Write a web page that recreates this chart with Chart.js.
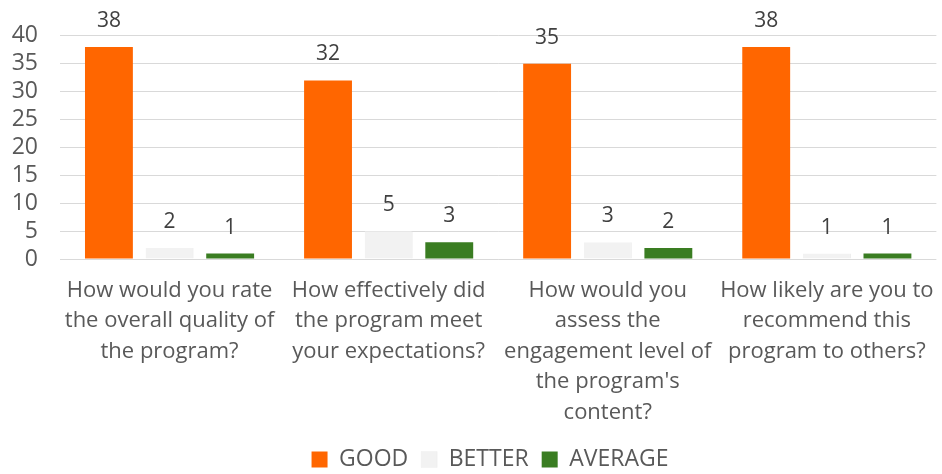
<!DOCTYPE html>
<html>
<head>
<meta charset="utf-8">
<script src="https://cdn.jsdelivr.net/npm/chart.js@4.4.0/dist/chart.umd.min.js"></script>
<style>
  body { margin: 0; background: #fff; }
  #wrap { width: 942px; height: 474px; position: relative; }
</style>
</head>
<body>
<div id="wrap"><canvas id="myChart"></canvas></div>
<script>
var questions = [
    ["How would you rate", "the overall quality of", "the program?"],
    ["How effectively did", "the program meet", "your expectations?"],
    ["How would you", "assess the", "engagement level of", "the program's", "content?"],
    ["How likely are you to", "recommend this", "program to others?"]
];
var goodValues = [38, 32, 35, 38];
var betterValues = [2, 5, 3, 1];
var averageValues = [1, 3, 2, 1];
var seriesNames = ["GOOD", "BETTER", "AVERAGE"];
var barColors = ["#FF6600", "#F2F2F2", "#3A7D22"];

var fontFamily = "'Open Sans', sans-serif";

// draw the value on top of every bar
var valueLabels = {
    id: 'valueLabels',
    afterDatasetsDraw: function (chart) {
        var ctx = chart.ctx;
        ctx.save();
        ctx.font = "21px " + fontFamily;
        ctx.fillStyle = "#404040";
        ctx.textAlign = "center";
        ctx.textBaseline = "middle";
        chart.data.datasets.forEach(function (ds, i) {
            var meta = chart.getDatasetMeta(i);
            meta.data.forEach(function (bar, j) {
                ctx.fillText(ds.data[j], bar.x, bar.y - 26);
            });
        });
        ctx.restore();
    }
};

// keep the legend box short and nudge it under the plot
var legendTweak = {
    id: 'legendTweak',
    beforeInit: function (chart) {
        var legend = chart.legend;
        var fit = legend.fit;
        legend.fit = function () {
            fit.call(this);
            this.height -= 8;
        };
    },
    afterLayout: function (chart) {
        chart.legend.top -= 1;
        chart.legend.left += 21;
        chart.legend.right += 21;
    }
};

new Chart("myChart", {
    type: "bar",
    data: {
        labels: questions,
        datasets: [
            { label: seriesNames[0], data: goodValues, backgroundColor: barColors[0] },
            { label: seriesNames[1], data: betterValues, backgroundColor: barColors[1], borderColor: "#e2e2e2", borderWidth: { top: 0, left: 0, right: 1, bottom: 0 } },
            { label: seriesNames[2], data: averageValues, backgroundColor: barColors[2] }
        ]
    },
    options: {
        responsive: true,
        maintainAspectRatio: false,
        animation: false,
        layout: { padding: { top: 20, right: 4, left: 0, bottom: 0 } },
        datasets: {
            bar: { categoryPercentage: 0.83, barPercentage: 0.79 }
        },
        scales: {
            x: {
                grid: { display: false },
                border: { display: false },
                ticks: {
                    color: "#595959",
                    maxRotation: 0,
                    autoSkip: false,
                    padding: 8,
                    font: { family: fontFamily, size: 22, lineHeight: 1.39 }
                }
            },
            y: {
                min: 0,
                max: 40,
                border: { display: false },
                grid: { color: "#d9d9d9", drawTicks: false },
                afterFit: function (scale) {
                    scale.width = 60;
                },
                ticks: {
                    stepSize: 5,
                    autoSkip: false,
                    color: "#595959",
                    padding: 22,
                    font: { family: fontFamily, size: 23 }
                }
            }
        },
        plugins: {
            legend: {
                position: "bottom",
                labels: {
                    color: "#595959",
                    boxWidth: 16,
                    boxHeight: 16,
                    padding: 13,
                    font: { family: fontFamily, size: 23 }
                }
            },
            tooltip: { enabled: false }
        }
    },
    plugins: [valueLabels, legendTweak]
});
</script>
</body>
</html>
